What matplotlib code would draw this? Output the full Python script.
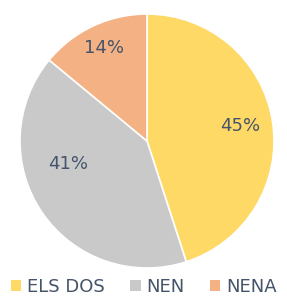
import numpy as np
import matplotlib.pyplot as plt
from matplotlib.patches import Patch

labels = ["ELS DOS", "NEN", "NENA"]
values = [45, 41, 14]
colors = ["#FFD966", "#C9C9C9", "#F4B183"]

fig = plt.figure(figsize=(2.87, 3.0), dpi=100)
ax = fig.add_axes([20 / 287, 32 / 300, 254 / 287, 254 / 300])

wedges, texts, autotexts = ax.pie(
    values, colors=colors, startangle=90, counterclock=False,
    autopct="%d%%", pctdistance=0.74,
    wedgeprops=dict(edgecolor="white", linewidth=1.2),
    textprops=dict(color="#44546A", fontsize=13),
)
# Excel-style label placement (angle in degrees, radius fraction)
label_pos = [(9, 0.74), (196, 0.65), (115, 0.81)]
for t, (a, r) in zip(autotexts, label_pos):
    t.set_position((r * np.cos(np.radians(a)), r * np.sin(np.radians(a))))

ax.set_xlim(-1.0, 1.0)
ax.set_ylim(-1.0, 1.0)
ax.set_aspect("equal")

handles = [Patch(facecolor=c, label=l) for c, l in zip(colors, labels)]
fig.legend(handles=handles, loc="lower center", bbox_to_anchor=(0.5, -0.04), ncol=3,
           frameon=False, fontsize=13, handlelength=0.6, handleheight=0.6,
           handletextpad=0.3, columnspacing=1.4, labelcolor="#44546A")

fig.savefig("out.png", dpi=100)
